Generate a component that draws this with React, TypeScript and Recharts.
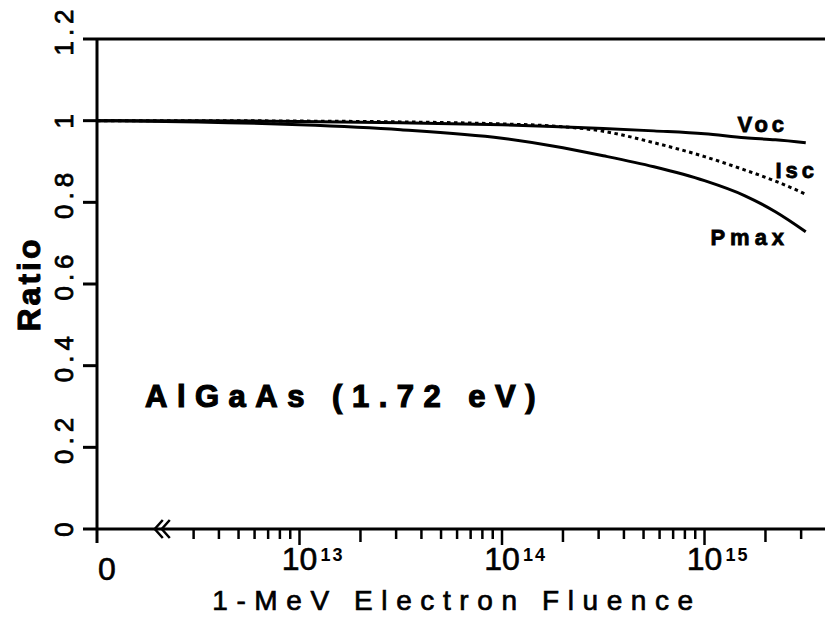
import React from "react";
import { LineChart, Line, XAxis, YAxis, ReferenceLine, LabelList, Label, Customized } from "recharts";

// log10 of 1-MeV electron fluence; 12 stands for the "0" fluence position (left of axis break)
const logFluence = [12, 12.5, 13, 13.5, 14, 14.25, 14.5, 14.75, 15, 15.2, 15.35, 15.5];
const vocRatio = [1.0, 1.0, 0.998, 0.995, 0.99, 0.986, 0.981, 0.975, 0.968, 0.958, 0.953, 0.946];
const iscRatio = [1.0, 1.0, 0.999, 0.997, 0.992, 0.987, 0.974, 0.946, 0.912, 0.879, 0.852, 0.82];
const pmaxRatio = [1.0, 0.997, 0.99, 0.978, 0.957, 0.938, 0.914, 0.887, 0.853, 0.816, 0.777, 0.728];

const yTicks = [0, 0.2, 0.4, 0.6, 0.8, 1, 1.2];
const yTickLabels = ["0", "0.2", "0.4", "0.6", "0.8", "1", "1.2"];

const xMajor = [12, 13, 14, 15];
const xMajorBase = ["0", "10", "10", "10"];
const xMajorSup = ["", "13", "14", "15"];
const minorMultipliers = [2, 3, 4, 5, 6, 7, 8, 9];
const minorDecades = [12, 13, 14, 15];
const axisBreak = 12.31;
const xMax = 15.595;

const minorTicks: number[] = [];
minorDecades.forEach((d) =>
  minorMultipliers.forEach((k) => {
    const v = d + Math.log10(k);
    if (v > axisBreak + 0.05 && v < xMax) minorTicks.push(v);
  })
);
const xTicks = [...xMajor, axisBreak, ...minorTicks];

const data = logFluence.map((u, i) => ({ u, voc: vocRatio[i], isc: iscRatio[i], pmax: pmaxRatio[i] }));

const FONT = "'Liberation Sans', Arial, Helvetica, sans-serif";

function XTick(props: any) {
  const { x, y, payload } = props;
  const v = payload.value;
  const mi = xMajor.indexOf(v);
  if (v === axisBreak) {
    return (
      <g stroke="#000" strokeWidth={2.5} fill="none">
        <path d={`M ${x + 3} ${y - 9} L ${x - 5} ${y} L ${x + 3} ${y + 9}`} />
        <path d={`M ${x + 10} ${y - 9} L ${x + 2} ${y} L ${x + 10} ${y + 9}`} />
      </g>
    );
  }
  if (mi >= 0) {
    if (mi === 0) {
      return (
        <g>
          <line x1={x} x2={x} y1={y} y2={y + 14} stroke="#000" strokeWidth={3} />
          <text x={x + 10} y={y + 51} textAnchor="middle" fontFamily={FONT} fontSize={32} fill="#000" stroke="#000" strokeWidth={0.6}>
            {xMajorBase[mi]}
          </text>
        </g>
      );
    }
    return (
      <g>
        <line x1={x} x2={x} y1={y} y2={y + 16} stroke="#000" strokeWidth={2.5} />
        <text x={x} y={y + 41} textAnchor="middle" fontFamily={FONT} fontSize={32} fill="#000" stroke="#000" strokeWidth={0.6}>
          {xMajorBase[mi]}
        </text>
        <text x={x + 21} y={y + 32} textAnchor="start" fontFamily={FONT} fontSize={18} fontWeight="bold" letterSpacing={2} fill="#000">
          {xMajorSup[mi]}
        </text>
      </g>
    );
  }
  const frac = v - Math.floor(v + 1e-9);
  const isTwo = Math.abs(frac - Math.log10(2)) < 1e-6;
  return <line x1={x} x2={x} y1={y} y2={y + (isTwo ? 13 : 10)} stroke="#000" strokeWidth={2.5} />;
}

function YTick(props: any) {
  const { x, y, payload } = props;
  const idx = yTicks.indexOf(payload.value);
  const label = yTickLabels[idx] ?? String(payload.value);
  const cy = y - (label.length > 1 ? 9 : 2);
  const bx = x - 24;
  return (
    <g>
      <line x1={x - 14} x2={x} y1={y} y2={y} stroke="#000" strokeWidth={3} />
      <text
        x={bx}
        y={cy}
        transform={`rotate(-90 ${bx} ${cy})`}
        textAnchor="middle"
        fontFamily={FONT}
        fontSize={26}
        letterSpacing={5}
        fill="#000"
        stroke="#000"
        strokeWidth={0.8}
      >
        {label}
      </text>
    </g>
  );
}

function endLabel(text: string, dx: number, dy: number, spacing: number) {
  return (props: any) => {
    const { x, y, index } = props;
    if (index !== logFluence.length - 1) return null;
    return (
      <text x={x + dx} y={y + dy} textAnchor="middle" fontFamily={FONT} fontSize={22} fontWeight="bold" letterSpacing={spacing} fill="#000" stroke="#000" strokeWidth={0.8}>
        {text}
      </text>
    );
  };
}

function RatioLabel(props: any) {
  const vb = props.viewBox || {};
  const cy = (vb.y ?? 39) + (vb.height ?? 490) / 2;
  const bx = 40;
  return (
    <text x={bx} y={cy} transform={`rotate(-90 ${bx} ${cy})`} textAnchor="middle" fontFamily={FONT} fontSize={32} fontWeight="bold" letterSpacing={3} fill="#000" stroke="#000" strokeWidth={1}>
      Ratio
    </text>
  );
}

function XTitle(props: any) {
  const vb = props.viewBox || {};
  const cx = (vb.x ?? 97) + (vb.width ?? 728) / 2 - 4;
  return (
    <text x={cx} y={610} textAnchor="middle" fontFamily={FONT} fontSize={28} letterSpacing={8.6} fill="#000" stroke="#000" strokeWidth={0.7}>
      1-MeV Electron Fluence
    </text>
  );
}

function Annotation() {
  return (
    <text x={145} y={407} fontFamily={FONT} fontSize={31} fontWeight="bold" letterSpacing={9.5} fill="#000" stroke="#000" strokeWidth={1.2}>
      AlGaAs (1.72 eV)
    </text>
  );
}

export default function App() {
  return (
    <div style={{ position: "absolute", left: 0, top: 0, width: 825, height: 623, background: "#fff" }}>
      <LineChart width={825} height={623} data={data} margin={{ top: 39, right: 0, bottom: 0, left: 0 }}>
        <XAxis
          dataKey="u"
          type="number"
          domain={[12, xMax]}
          allowDataOverflow
          ticks={xTicks}
          interval={0}
          tick={<XTick />}
          tickLine={false}
          tickSize={0}
          tickMargin={0}
          height={94}
          axisLine={{ stroke: "#000", strokeWidth: 3 }}
        >
          <Label content={<XTitle />} />
        </XAxis>
        <YAxis
          type="number"
          domain={[0, 1.2]}
          ticks={yTicks}
          interval={0}
          tick={<YTick />}
          tickLine={false}
          tickSize={0}
          tickMargin={0}
          width={97}
          axisLine={{ stroke: "#000", strokeWidth: 3 }}
        >
          <Label content={<RatioLabel />} />
        </YAxis>
        <ReferenceLine y={1.2} stroke="#000" strokeWidth={3} ifOverflow="visible" />
        <Line type="monotone" dataKey="voc" stroke="#000" strokeWidth={3} dot={false} isAnimationActive={false}>
          <LabelList dataKey="voc" content={endLabel("Voc", -43, -11, 4)} />
        </Line>
        <Line type="monotone" dataKey="isc" stroke="#000" strokeWidth={3} strokeDasharray="3.5 3.5" dot={false} isAnimationActive={false}>
          <LabelList dataKey="isc" content={endLabel("Isc", -9, -16, 4)} />
        </Line>
        <Line type="monotone" dataKey="pmax" stroke="#000" strokeWidth={3} dot={false} isAnimationActive={false}>
          <LabelList dataKey="pmax" content={endLabel("Pmax", -56, 13, 5)} />
        </Line>
        <Customized component={<Annotation />} />
      </LineChart>
    </div>
  );
}
